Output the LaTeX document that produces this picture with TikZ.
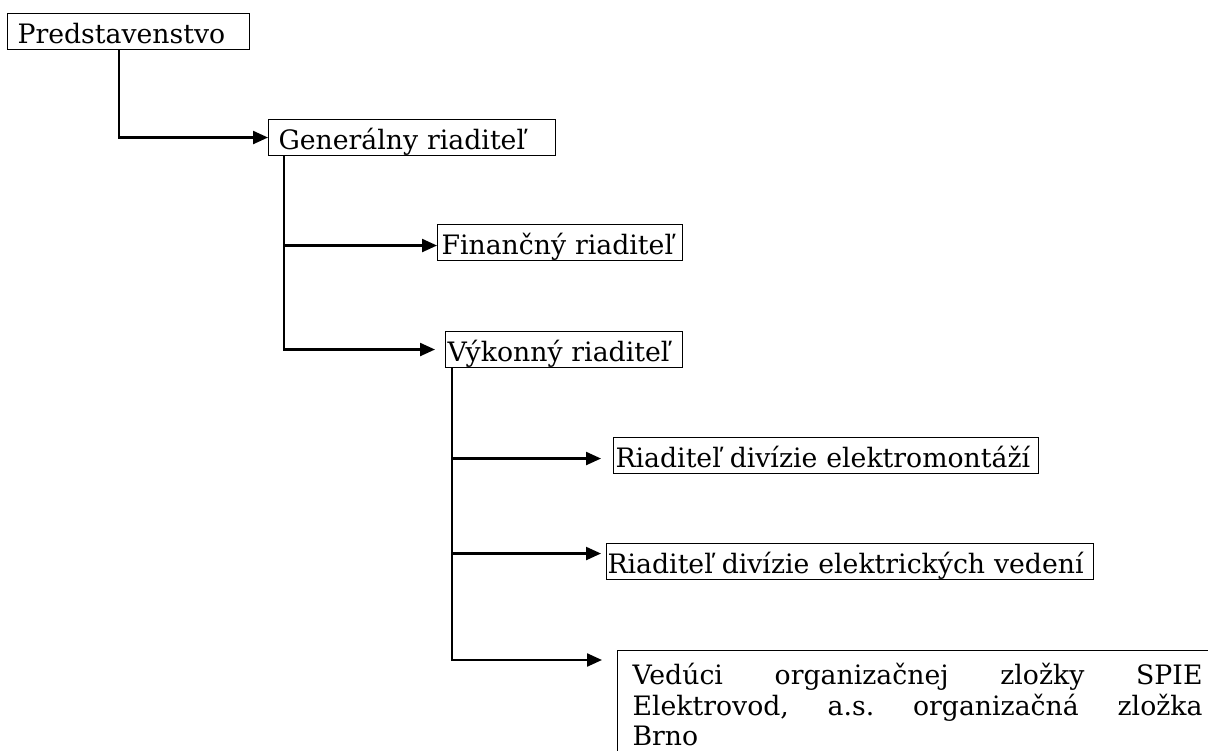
\documentclass[tikz,border=0pt]{standalone}
\usepackage{fontspec}
\setmainfont{DejaVu Serif}
\usetikzlibrary{arrows.meta}

\begin{document}
\begin{tikzpicture}[
	font=\fontsize{15.2pt}{16.5pt}\selectfont,
	box/.style={draw, line width=0.6pt, anchor=north west, align=left,
		inner ysep=0pt, inner xsep=0.08cm, text height=0.6cm, text depth=0.12cm},
	link/.style={line width=1.3pt, -{Triangle[length=0.3cm,width=0.26cm]}}]
				\useasboundingbox (0,0) rectangle (24.16,-15.02);
				\node[box, inner xsep=0.2cm, text width=4.44cm] (pred) at (0.14,-0.26) {Predstavenstvo};
				\node[box, inner xsep=0.2cm, text width=5.34cm] (gen) at (5.36,-2.38) {Generálny riaditeľ};
				\node[box, text width=4.74cm] (fin) at (8.74,-4.48) {Finančný riaditeľ};
				\node[box, inner xsep=0.04cm, text width=4.66cm] (vyk) at (8.90,-6.62) {Výkonný riaditeľ};
				\node[box, inner xsep=0.04cm, text width=8.42cm] (elm) at (12.26,-8.74) {Riaditeľ divízie elektromontáží};
				\node[box, inner xsep=0.02cm, text width=9.70cm] (elv) at (12.12,-10.86) {Riaditeľ divízie elektrických vedení};
				\node[draw, line width=0.6pt, anchor=north west, align=left, inner xsep=0.3cm,
					inner ysep=0.26cm, text width=11.4cm, text depth=2.2cm] (ved) at (12.34,-13.00)
					{Vedúci\hfill organizačnej\hfill zložky\hfill SPIE\\[0.03cm]
					Elektrovod,\hfill a.s.\hfill organizačná\hfill zložka\\[0.03cm]
					Brno};
				\draw[link] ([xshift=2.24cm]pred.south west) |- (gen.west);
				\draw[link] ([xshift=0.32cm]gen.south west) |- ([yshift=-0.06cm]fin.west);
				\draw[link, shorten >=0.2cm] ([xshift=0.32cm]gen.south west) |- (vyk.west);
				\draw[link, shorten >=0.24cm] ([xshift=0.14cm]vyk.south west) |- ([yshift=-0.06cm]elm.west);
				\draw[link, shorten >=0.1cm] ([xshift=0.14cm]vyk.south west) |- ([yshift=0.16cm]elv.west);
				\draw[link, shorten >=0.3cm] ([xshift=0.14cm]vyk.south west) |- ([yshift=-0.2cm]ved.north west);
\end{tikzpicture}
\end{document}
